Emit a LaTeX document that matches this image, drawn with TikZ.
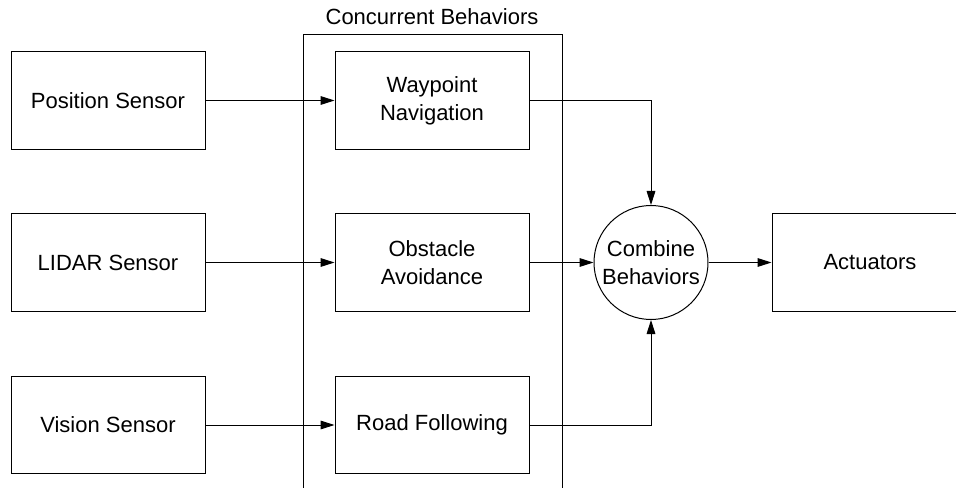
\documentclass[tikz,border=0pt]{standalone}
\usepackage{fontspec}
\setmainfont{Liberation Sans}
\usetikzlibrary{arrows.meta}

\begin{document}
\begin{tikzpicture}[x=0.75pt,y=0.75pt,yscale=-1,xscale=1,
    every node/.style={font=\fontsize{16.5}{20.8}\selectfont},
    box/.style={draw, line width=0.75pt, minimum width=145.5pt, minimum height=73pt, align=center, inner sep=0pt},
    combiner/.style={draw, circle, line width=0.75pt, minimum size=85.5pt, align=center, inner sep=0pt},
    flow/.style={line width=0.75pt, -{Triangle[length=10.5pt, width=6.5pt]}}]
    \useasboundingbox (0,0) rectangle (956,488);

    %Container
    \draw [line width=0.75pt] (303,495) -- (303,35) -- (562,35) -- (562,495) ;
    \node (title) at (432,17) {Concurrent Behaviors};

    % Sensors
    \node[box] (pos) at (108,100.5) {Position Sensor};
    \node[box] (lidar) at (108,262.5) {LIDAR Sensor};
    \node[box] (vision) at (108,425) {Vision Sensor};

    % Behaviors
    \node[box] (way) at (432,100.5) {Waypoint\\Navigation};
    \node[box] (obs) at (432,262.5) {Obstacle\\Avoidance};
    \node[box] (road) at (432,425) {Road Following};

    % Combine + output
    \node[combiner] (comb) at (651,262.5) {Combine\\Behaviors};
    \node[box, minimum width=147pt] (act) at (870,262.5) {Actuators};

    % Connectors
    \draw [flow] (pos) -- (way) ;
    \draw [flow] (lidar) -- (obs) ;
    \draw [flow] (vision) -- (road) ;
    \draw [flow] (way.east) -| (comb.north) ;
    \draw [flow] (obs) -- (comb) ;
    \draw [flow] (road.east) -| (comb.south) ;
    \draw [flow] (comb) -- (act) ;

\end{tikzpicture}
\end{document}
